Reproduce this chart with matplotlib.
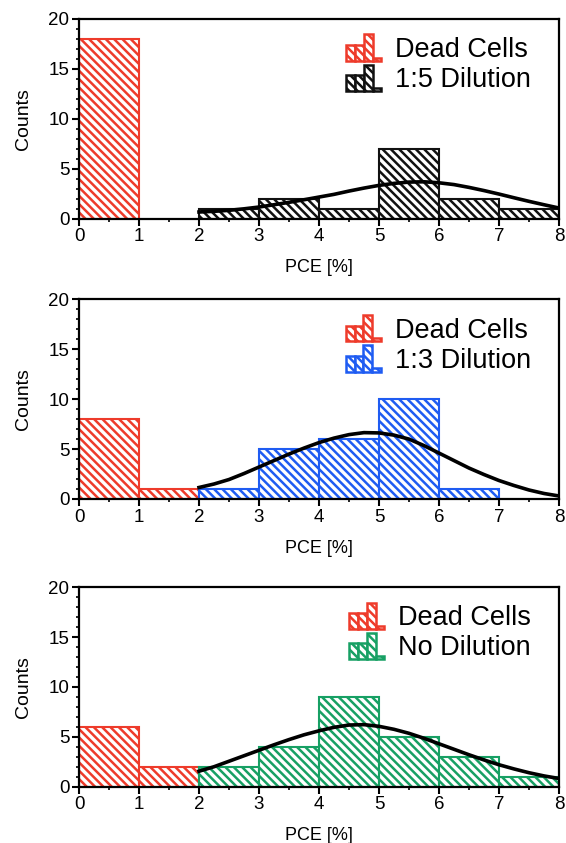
import numpy as np
import matplotlib
matplotlib.use("Agg")
import matplotlib.pyplot as plt
from matplotlib.patches import Rectangle
from matplotlib.legend_handler import HandlerBase
from matplotlib.ticker import MultipleLocator

plt.rcParams['font.family'] = ['Liberation Sans', 'DejaVu Sans']
plt.rcParams['hatch.linewidth'] = 1.8

# histogram data: left bin edges and counts
dead_edges = [[0], [0, 1], [0, 1]]
dead_counts = [[18], [8, 1], [6, 2]]

film_labels = ["1:5 Dilution", "1:3 Dilution", "No Dilution"]
film_colors = ["#111111", "#1f5cf2", "#17a064"]
film_edges = [[2, 3, 4, 5, 6, 7], [2, 3, 4, 5, 6], [2, 3, 4, 5, 6, 7]]
film_counts = [[1, 2, 1, 7, 2, 1], [1, 5, 6, 10, 1], [2, 4, 9, 5, 3, 1]]

# fitted curves
fit_x = [2.00, 2.25, 2.50, 2.75, 3.00, 3.25, 3.50, 3.75, 4.00, 4.25, 4.50, 4.75, 5.00,
         5.25, 5.50, 5.75, 6.00, 6.25, 6.50, 6.75, 7.00, 7.25, 7.50, 7.75, 8.00]
fit_y = [
    [0.65, 0.72, 0.82, 0.97, 1.15, 1.38, 1.62, 1.88, 2.15, 2.42, 2.75, 3.05, 3.32,
     3.52, 3.65, 3.68, 3.58, 3.40, 3.12, 2.80, 2.45, 2.08, 1.72, 1.38, 1.05],
    [1.15, 1.50, 1.95, 2.55, 3.20, 3.85, 4.50, 5.10, 5.65, 6.10, 6.45, 6.65, 6.62,
     6.40, 6.00, 5.35, 4.60, 3.85, 3.10, 2.45, 1.85, 1.35, 0.90, 0.55, 0.30],
    [1.55, 2.00, 2.55, 3.10, 3.65, 4.20, 4.72, 5.20, 5.60, 5.95, 6.18, 6.22, 6.05,
     5.75, 5.35, 4.85, 4.30, 3.75, 3.20, 2.68, 2.20, 1.78, 1.40, 1.08, 0.82],
]

dead_color = "#ee3b2b"
hatch = "\\" * 4


class HistHandler(HandlerBase):
    # little histogram icon like the original legend
    def create_artists(self, legend, orig, xd, yd, width, height, fontsize, trans):
        c = orig.get_edgecolor()
        hs = [0.6, 0.6, 1.0, 0.12]
        arts = []
        x = -xd
        w = width / 4
        for h in hs:
            r = Rectangle((x, -yd - 0.2 * height), w, h * height * 1.4,
                          facecolor="white", edgecolor=c, hatch=hatch, lw=1.8,
                          transform=trans)
            arts.append(r)
            x += w
        return arts


fig = plt.figure(figsize=(5.66, 8.43), dpi=100)
bottoms = [0.7408, 0.4081, 0.0668]

for i in range(3):
    ax = fig.add_axes([0.1396, bottoms[i], 0.848, 0.2367])
    ax.bar(dead_edges[i], dead_counts[i], width=1, align='edge',
           facecolor="white", edgecolor=dead_color, hatch=hatch, lw=1.5)
    ax.bar(film_edges[i], film_counts[i], width=1, align='edge',
           facecolor="white", edgecolor=film_colors[i], hatch=hatch, lw=1.5)
    ax.plot(fit_x, fit_y[i], color="black", lw=2.6, zorder=5)

    ax.set_xlim(0, 8)
    ax.set_ylim(0, 20)
    ax.xaxis.set_major_locator(MultipleLocator(1))
    ax.xaxis.set_minor_locator(MultipleLocator(0.5))
    ax.yaxis.set_major_locator(MultipleLocator(5))
    ax.yaxis.set_minor_locator(MultipleLocator(1))
    ax.tick_params(which='major', length=5, width=1.5, labelsize=13.5, pad=2)
    ax.tick_params(which='minor', length=2.5, width=1.2)
    for s in ax.spines.values():
        s.set_linewidth(1.6)
    ax.set_xlabel("PCE [%]", fontsize=13, labelpad=10)
    ax.set_ylabel("Counts", fontsize=14, labelpad=12)

    h1 = Rectangle((0, 0), 1, 1, edgecolor=dead_color)
    h2 = Rectangle((0, 0), 1, 1, edgecolor=film_colors[i])
    ax.legend([h1, h2], ["Dead Cells", film_labels[i]], loc='upper right',
              bbox_to_anchor=(0.975, 0.99), frameon=False, fontsize=19.5,
              handler_map={Rectangle: HistHandler()}, handlelength=1.3,
              handletextpad=0.5, labelspacing=0.15, borderaxespad=0.2)

fig.savefig("out.png", dpi=100)
